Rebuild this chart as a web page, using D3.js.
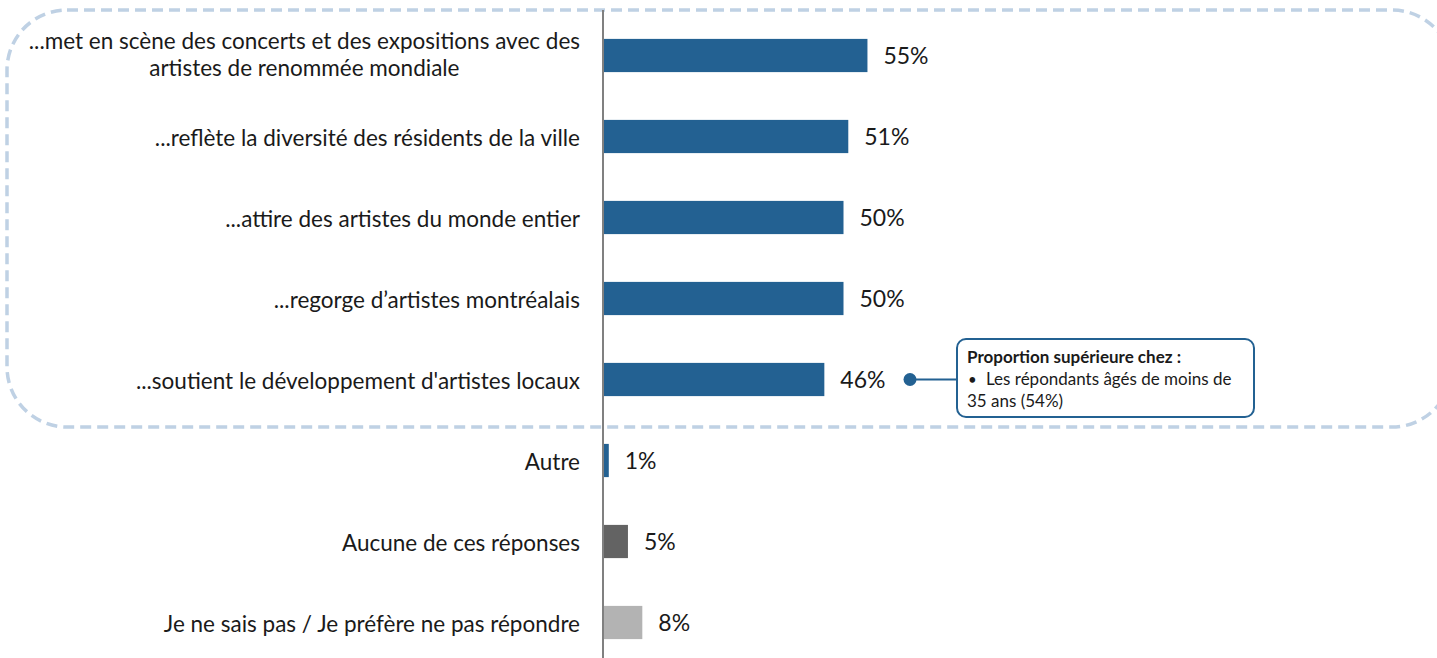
<!DOCTYPE html>
<html>
<head>
<meta charset="utf-8">
<script src="https://cdn.jsdelivr.net/npm/d3@7"></script>
<style>
  html, body { margin: 0; padding: 0; background: #fff; }
  svg { display: block; font-family: Lato, "Open Sans", sans-serif; }
</style>
</head>
<body>
<svg id="chart" width="1437" height="658"></svg>
<script>
// Données
const categories = [
  "...met en scène des concerts et des expositions avec des|artistes de renommée mondiale",
  "...reflète la diversité des résidents de la ville",
  "...attire des artistes du monde entier",
  "...regorge d’artistes montréalais",
  "...soutient le développement d'artistes locaux",
  "Autre",
  "Aucune de ces réponses",
  "Je ne sais pas / Je préfère ne pas répondre"
];
const valeurs = [55, 51, 50, 50, 46, 1, 5, 8];
const couleurs = ["#236192", "#236192", "#236192", "#236192", "#236192", "#236192", "#636363", "#B3B3B3"];
const noteTitre = "Proportion supérieure chez :";
const noteLignes = ["Les répondants âgés de moins de", "35 ans (54%)"];
const noteIndex = 4;

const svg = d3.select("#chart");
const hauteur = 658;
const axeX = 604;

const x = d3.scaleLinear().domain([0, 100]).range([axeX, axeX + 479]);
const y = d3.scaleBand()
  .domain(d3.range(categories.length))
  .range([15, 663])
  .paddingInner(0.59)
  .paddingOuter(0.295);
const centre = i => y(i) + y.bandwidth() / 2;

// Cadre pointillé arrondi autour des 5 premiers items
svg.append("rect")
  .attr("x", 7).attr("y", 10)
  .attr("width", 1445).attr("height", 417)
  .attr("rx", 60).attr("ry", 60)
  .attr("fill", "none")
  .attr("stroke", "#BFD1E4")
  .attr("stroke-width", 3.5)
  .attr("stroke-dasharray", "11 6");

// Barres
svg.append("g").selectAll("rect")
  .data(valeurs)
  .join("rect")
  .attr("x", x(0))
  .attr("y", (d, i) => y(i))
  .attr("width", d => x(d) - x(0))
  .attr("height", y.bandwidth())
  .attr("fill", (d, i) => couleurs[i]);

// Étiquettes de valeur
svg.append("g").selectAll("text")
  .data(valeurs)
  .join("text")
  .attr("x", d => x(d) + 16)
  .attr("y", (d, i) => centre(i) + 8.5)
  .style("font-size", "23px")
  .style("fill", "#1a1a1a")
  .text(d => d + "%");

// Libellés des catégories
const libelles = svg.append("g").selectAll("text")
  .data(categories)
  .join("text")
  .style("font-size", "22.5px")
  .style("fill", "#1a1a1a");

libelles.each(function (d, i) {
  const lignes = d.split("|");
  const t = d3.select(this);
  if (lignes.length === 1) {
    t.attr("x", 580).attr("y", centre(i) + 9.5).attr("text-anchor", "end").text(d);
  } else {
    // bloc centré, aligné à droite
    t.attr("text-anchor", "middle");
    lignes.forEach((l, k) => {
      t.append("tspan")
        .attr("x", 0)
        .attr("y", centre(i) - 7 + k * 27)
        .text(l);
    });
    const w = d3.max(t.selectAll("tspan").nodes(), n => n.getComputedTextLength());
    t.selectAll("tspan").attr("x", 580 - w / 2);
  }
});

// Axe vertical
svg.append("line")
  .attr("x1", axeX - 1).attr("x2", axeX - 1)
  .attr("y1", 10).attr("y2", hauteur)
  .attr("stroke", "#808080")
  .attr("stroke-width", 2);

// Bulle d'annotation
const yNote = centre(noteIndex);
const note = svg.append("g");
note.append("line")
  .attr("x1", 910).attr("x2", 957)
  .attr("y1", yNote).attr("y2", yNote)
  .attr("stroke", "#236192").attr("stroke-width", 2);
note.append("circle")
  .attr("cx", 910).attr("cy", yNote).attr("r", 6.5)
  .attr("fill", "#236192");
note.append("rect")
  .attr("x", 957).attr("y", 339)
  .attr("width", 297).attr("height", 78)
  .attr("rx", 9)
  .attr("fill", "#fff")
  .attr("stroke", "#236192").attr("stroke-width", 2);
note.append("text")
  .attr("x", 967).attr("y", 363)
  .style("font-size", "17px").style("font-weight", "bold").style("fill", "#1a1a1a")
  .text(noteTitre);
note.append("text")
  .attr("x", 968).attr("y", 385)
  .style("font-size", "15px").style("fill", "#1a1a1a")
  .text("•");
note.append("g").selectAll("text")
  .data(noteLignes)
  .join("text")
  .attr("x", (d, k) => k === 0 ? 986 : 967)
  .attr("y", (d, k) => 385 + k * 21.5)
  .style("font-size", "17px").style("fill", "#1a1a1a")
  .text(d => d);
</script>
</body>
</html>
